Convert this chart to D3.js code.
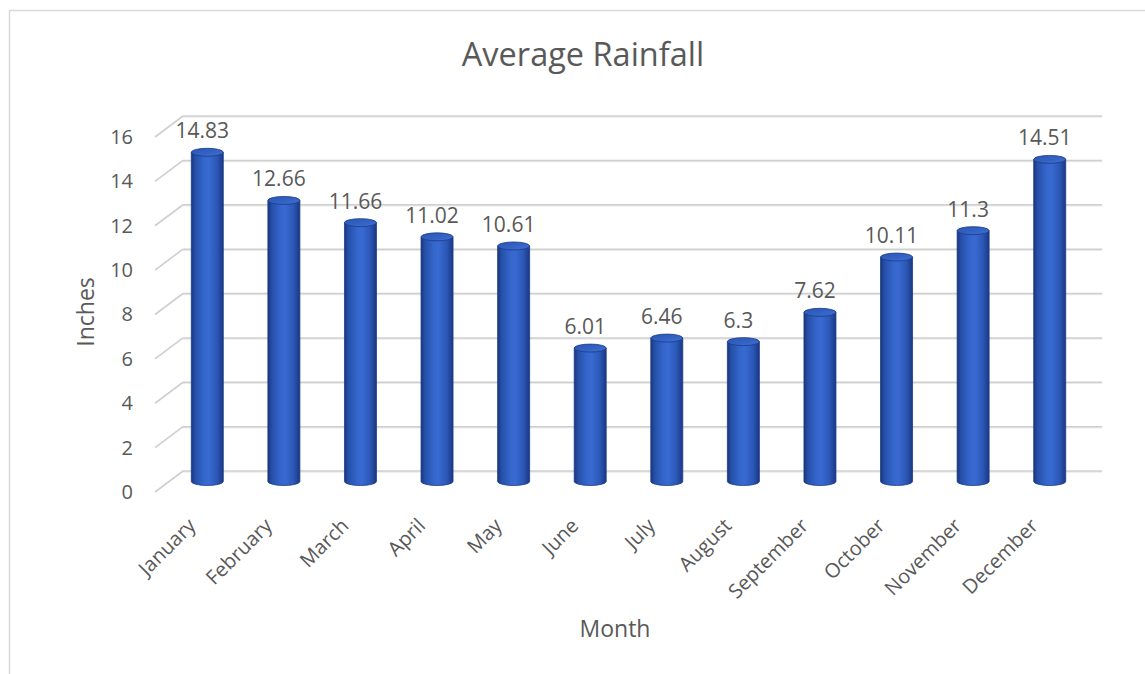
<!DOCTYPE html>
<html>
<head>
<meta charset="utf-8">
<script src="https://cdn.jsdelivr.net/npm/d3@7/dist/d3.min.js"></script>
<style>
  html, body { margin: 0; padding: 0; background: #fff; }
  svg { display: block; font-family: "Open Sans", sans-serif; }
</style>
</head>
<body>
<svg id="chart" width="1145" height="674"></svg>
<script>
const months = ["January","February","March","April","May","June","July","August","September","October","November","December"];
const rainfall = [14.83, 12.66, 11.66, 11.02, 10.61, 6.01, 6.46, 6.3, 7.62, 10.11, 11.3, 14.51];
const yTicks = [0, 2, 4, 6, 8, 10, 12, 14, 16];
const titleText = "Average Rainfall";
const xTitle = "Month";
const yTitle = "Inches";

const svg = d3.select("#chart");
const textColor = "#595959";
const gridColor = "#cfcfcf";

// chart border
svg.append("rect").attr("x", 9.5).attr("y", 10.5).attr("width", 1300).attr("height", 1000)
  .attr("fill", "#fff").attr("stroke", "#d9d9d9").attr("stroke-width", 1.5);

// 3D geometry
const wallLeft = 183, wallRight = 1102;
const depthX = 28, depthY = 21;
const yBack = d3.scaleLinear().domain([0, 16]).range([471, 116]);
const yFront = d3.scaleLinear().domain([0, 16]).range([471 + depthY, 116 + depthY]);
const yCyl = d3.scaleLinear().domain([0, 16]).range([481.5, 481.5 - 16 * 22.2]);
const x = d3.scalePoint().domain(months).range([169, 1088]).padding(0.5);

const defs = svg.append("defs");
const g1 = defs.append("linearGradient").attr("id", "body").attr("x1", "0").attr("x2", "1").attr("y1", "0").attr("y2", "0");
[["0%", "#1a357c"], ["12%", "#2550a8"], ["40%", "#3466cc"], ["55%", "#386ad2"], ["80%", "#2c58b6"], ["100%", "#1b3784"]]
  .forEach(([o, c]) => g1.append("stop").attr("offset", o).attr("stop-color", c));
const g2 = defs.append("linearGradient").attr("id", "top").attr("x1", "0").attr("x2", "1").attr("y1", "0").attr("y2", "1");
[["0%", "#2a55b2"], ["60%", "#3564c6"], ["100%", "#3f72d6"]]
  .forEach(([o, c]) => g2.append("stop").attr("offset", o).attr("stop-color", c));

// gridlines (back wall + side diagonals)
const grid = svg.append("g");
yTicks.forEach(t => {
  const yb = yBack(t);
  grid.append("line").attr("x1", wallLeft).attr("x2", wallRight).attr("y1", yb + 1).attr("y2", yb + 1)
    .attr("stroke", "#ebebeb").attr("stroke-width", 1.5);
  grid.append("line").attr("x1", wallLeft).attr("x2", wallRight).attr("y1", yb).attr("y2", yb)
    .attr("stroke", gridColor).attr("stroke-width", 1.5);
  grid.append("line").attr("x1", wallLeft - depthX).attr("y1", yb + depthY).attr("x2", wallLeft).attr("y2", yb)
    .attr("stroke", gridColor).attr("stroke-width", 1.6);
});

// y axis labels
const yAxis = d3.axisLeft(yFront).tickValues(yTicks).tickSize(0).tickPadding(8).tickFormat(d3.format("d"));
const ya = svg.append("g").attr("transform", "translate(141,0)").call(yAxis);
ya.select(".domain").remove();
ya.selectAll("text").attr("fill", textColor).style("font-size", "20px").style("font-family", "Open Sans");

// cylinders
const rx = 16, ry = 4;
const cyl = svg.append("g");
months.forEach((m, i) => {
  const cx = x(m), v = rainfall[i];
  const yb = yCyl(0), yt = yCyl(v);
  const g = cyl.append("g");
  g.append("path")
    .attr("d", `M${cx - rx},${yt} L${cx - rx},${yb} A${rx},${ry} 0 0 0 ${cx + rx},${yb} L${cx + rx},${yt} Z`)
    .attr("fill", "url(#body)").attr("stroke", "#1c3a86").attr("stroke-width", 0.8);
  g.append("ellipse").attr("cx", cx).attr("cy", yt).attr("rx", rx).attr("ry", ry)
    .attr("fill", "url(#top)").attr("stroke", "#1c3a86").attr("stroke-width", 0.8);
  // data label
  svg.append("text").attr("x", cx - 5).attr("y", yt - 14).attr("text-anchor", "middle")
    .attr("fill", textColor).style("font-size", "21px").text(v);
});

// x axis labels
const xAxis = d3.axisBottom(x).tickSize(0).tickPadding(0);
const xa = svg.append("g").attr("transform", "translate(0,500)").call(xAxis);
xa.select(".domain").remove();
xa.selectAll("text").attr("fill", textColor).style("font-size", "20px").style("font-family", "Open Sans")
  .attr("text-anchor", "end").attr("dy", null).attr("y", 0).attr("x", 0)
  .attr("transform", "translate(-11,27) rotate(-45)");

// titles
svg.append("text").attr("x", 583).attr("y", 66).attr("text-anchor", "middle")
  .attr("fill", textColor).style("font-size", "32.5px").text(titleText);
svg.append("text").attr("x", 615).attr("y", 637).attr("text-anchor", "middle")
  .attr("fill", textColor).style("font-size", "23px").text(xTitle);
svg.append("text").attr("transform", "translate(94,312) rotate(-90)").attr("text-anchor", "middle")
  .attr("fill", textColor).style("font-size", "23px").text(yTitle);
</script>
</body>
</html>
